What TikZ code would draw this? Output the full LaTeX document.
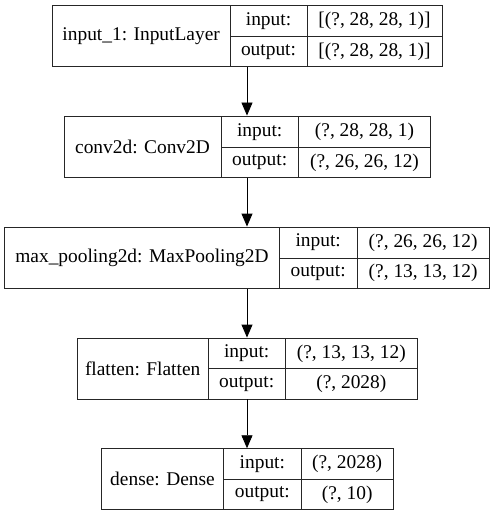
\documentclass[tikz,border=0pt]{standalone}
\usepackage{fontspec}
\setmainfont{Liberation Serif}
\usetikzlibrary{arrows.meta}
\newcommand\cellbox[6]{\node[cell, minimum width={(#4-#2)*1pt}, minimum height={(#5-#3)*1pt}] (#1) at ({(#2+#4)/2},{(#3+#5)/2}) {#6};}
\begin{document}
\begin{tikzpicture}[x=1pt,y=-1pt,
  cell/.style={draw=black!85, line width=0.9pt, inner sep=0pt, font=\fontsize{19.4}{23}\selectfont},
  arr/.style={draw=black, line width=0.9pt, -{Triangle[length=13pt,width=11pt]}}]
\useasboundingbox (0,0) rectangle (495,516);
\coordinate (ax) at (247,0);
% layer 1
\cellbox{aname}{52.3}{5.3}{230}{66.7}{input\_1: InputLayer}
\cellbox{ainl}{230}{5.3}{307}{36.7}{input:}
\cellbox{aoutl}{230}{36.7}{307}{66.7}{output:}
\cellbox{ainv}{307}{5.3}{442}{36.7}{[(?, 28, 28, 1)]}
\cellbox{aoutv}{307}{36.7}{442}{66.7}{[(?, 28, 28, 1)]}
% layer 2
\cellbox{bname}{64}{116}{221}{177.7}{conv2d: Conv2D}
\cellbox{binl}{221}{116}{298.3}{147.3}{input:}
\cellbox{boutl}{221}{147.3}{298.3}{177.7}{output:}
\cellbox{binv}{298.3}{116}{430.7}{147.3}{(?, 28, 28, 1)}
\cellbox{boutv}{298.3}{147.3}{430.7}{177.7}{(?, 26, 26, 12)}
% layer 3
\cellbox{cname}{4.7}{227}{279.3}{288.3}{max\_pooling2d: MaxPooling2D}
\cellbox{cinl}{279.3}{227}{357}{258}{input:}
\cellbox{coutl}{279.3}{258}{357}{288.3}{output:}
\cellbox{cinv}{357}{227}{489.3}{258}{(?, 26, 26, 12)}
\cellbox{coutv}{357}{258}{489.3}{288.3}{(?, 13, 13, 12)}
% layer 4
\cellbox{dname}{77.3}{338}{208}{399}{flatten: Flatten}
\cellbox{dinl}{208}{338}{285.3}{368.7}{input:}
\cellbox{doutl}{208}{368.7}{285.3}{399}{output:}
\cellbox{dinv}{285.3}{338}{417.3}{368.7}{(?, 13, 13, 12)}
\cellbox{doutv}{285.3}{368.7}{417.3}{399}{(?, 2028)}
% layer 5
\cellbox{ename}{101.3}{448.7}{223.7}{509.7}{dense: Dense}
\cellbox{einl}{223.7}{448.7}{301}{479.3}{input:}
\cellbox{eoutl}{223.7}{479.3}{301}{509.7}{output:}
\cellbox{einv}{301}{448.7}{393.3}{479.3}{(?, 2028)}
\cellbox{eoutv}{301}{479.3}{393.3}{509.7}{(?, 10)}
% arrows
\draw[arr] (aoutl.south -| ax) -- (binl.north -| ax);
\draw[arr] (boutl.south -| ax) -- (cname.north -| ax);
\draw[arr] (cname.south -| ax) -- (dinl.north -| ax);
\draw[arr] (doutl.south -| ax) -- (einl.north -| ax);
\end{tikzpicture}
\end{document}
